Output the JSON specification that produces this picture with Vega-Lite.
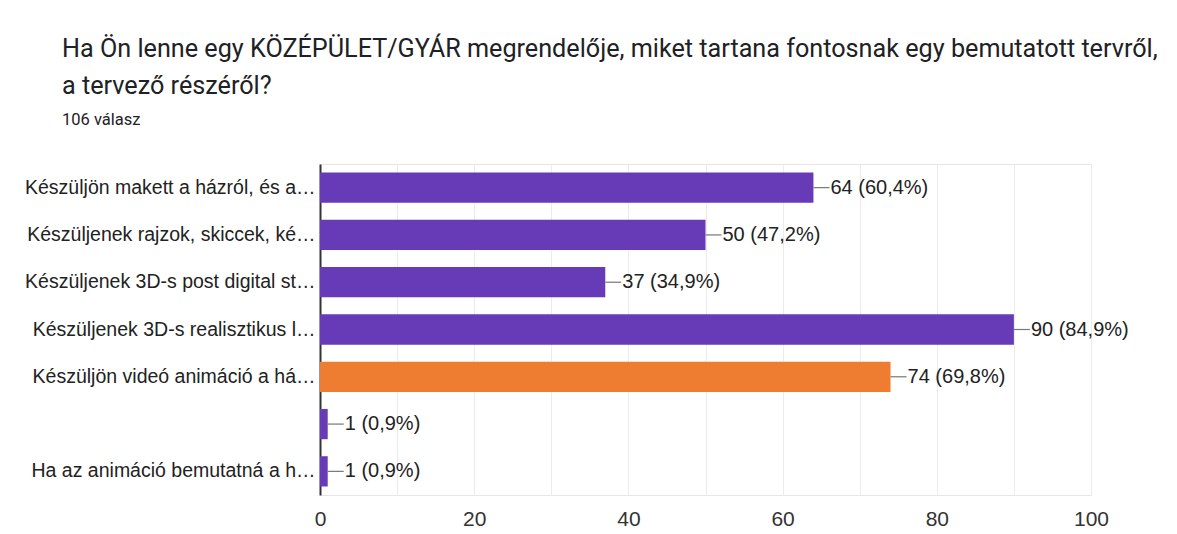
{
  "$schema": "https://vega.github.io/schema/vega-lite/v6.json",
  "width": 771,
  "height": 331,
  "autosize": {"type": "none"},
  "padding": {"left": 320, "top": 164, "right": 86, "bottom": 39},
  "background": "white",
  "title": {
    "text": ["Ha Ön lenne egy KÖZÉPÜLET/GYÁR megrendelője, miket tartana fontosnak egy bemutatott tervről,", "a tervező részéről?"],
    "subtitle": "106 válasz",
    "anchor": "start",
    "frame": "group",
    "dx": -258,
    "offset": 36,
    "font": "Roboto",
    "fontSize": 25.2,
    "fontWeight": "normal",
    "color": "#202124",
    "lineHeight": 37,
    "subtitleFont": "Roboto",
    "subtitleFontSize": 16.5,
    "subtitleColor": "#202124",
    "subtitlePadding": 12
  },
  "data": {
    "values": [
      {"id": "a", "cat": "Készüljön makett a házról, és a…", "value": 64, "label": "64 (60,4%)", "hl": "no"},
      {"id": "b", "cat": "Készüljenek rajzok, skiccek, ké…", "value": 50, "label": "50 (47,2%)", "hl": "no"},
      {"id": "c", "cat": "Készüljenek 3D-s post digital st…", "value": 37, "label": "37 (34,9%)", "hl": "no"},
      {"id": "d", "cat": "Készüljenek 3D-s realisztikus l…", "value": 90, "label": "90 (84,9%)", "hl": "no"},
      {"id": "e", "cat": "Készüljön videó animáció a há…", "value": 74, "label": "74 (69,8%)", "hl": "yes"},
      {"id": "f", "cat": " ", "value": 1, "label": "1 (0,9%)", "hl": "no"},
      {"id": "g", "cat": "Ha az animáció bemutatná a h…", "value": 1, "label": "1 (0,9%)", "hl": "no"}
    ]
  },
  "encoding": {
    "y": {
      "field": "cat",
      "type": "nominal",
      "sort": null,
      "title": null,
      "scale": {"paddingInner": 0.36, "paddingOuter": 0.18},
      "axis": {
        "labelFont": "Liberation Sans",
        "labelFontSize": 19.5,
        "labelColor": "#222222",
        "labelLimit": 0,
        "labelPadding": 5,
        "ticks": false,
        "domainColor": "#333333",
        "domainWidth": 2
      }
    },
    "x": {
      "field": "value",
      "type": "quantitative",
      "title": null,
      "scale": {"domain": [0, 100], "nice": false},
      "axis": {
        "values": [0, 10, 20, 30, 40, 50, 60, 70, 80, 90, 100],
        "labelExpr": "datum.value % 20 == 0 ? datum.label : ''",
        "labelFlush": false,
        "labelFont": "Liberation Sans",
        "labelFontSize": 21,
        "labelColor": "#333333",
        "labelPadding": 13,
        "ticks": false,
        "domain": false,
        "grid": true,
        "gridColor": "#ececec",
        "gridWidth": 1
      }
    }
  },
  "layer": [
    {
      "mark": {"type": "bar"},
      "encoding": {
        "color": {
          "field": "hl",
          "type": "nominal",
          "scale": {"domain": ["no", "yes"], "range": ["#673AB7", "#EE7D31"]},
          "legend": null
        }
      }
    },
    {
      "mark": {"type": "rule", "x2Offset": 16, "color": "#777777", "strokeWidth": 1.2},
      "encoding": {
        "x2": {"field": "value"}
      }
    },
    {
      "mark": {"type": "text", "align": "left", "baseline": "middle", "dx": 17, "font": "Liberation Sans", "fontSize": 20, "color": "#222222"},
      "encoding": {
        "text": {"field": "label"}
      }
    }
  ],
  "config": {
    "view": {"stroke": "#e6e6e6"}
  }
}
